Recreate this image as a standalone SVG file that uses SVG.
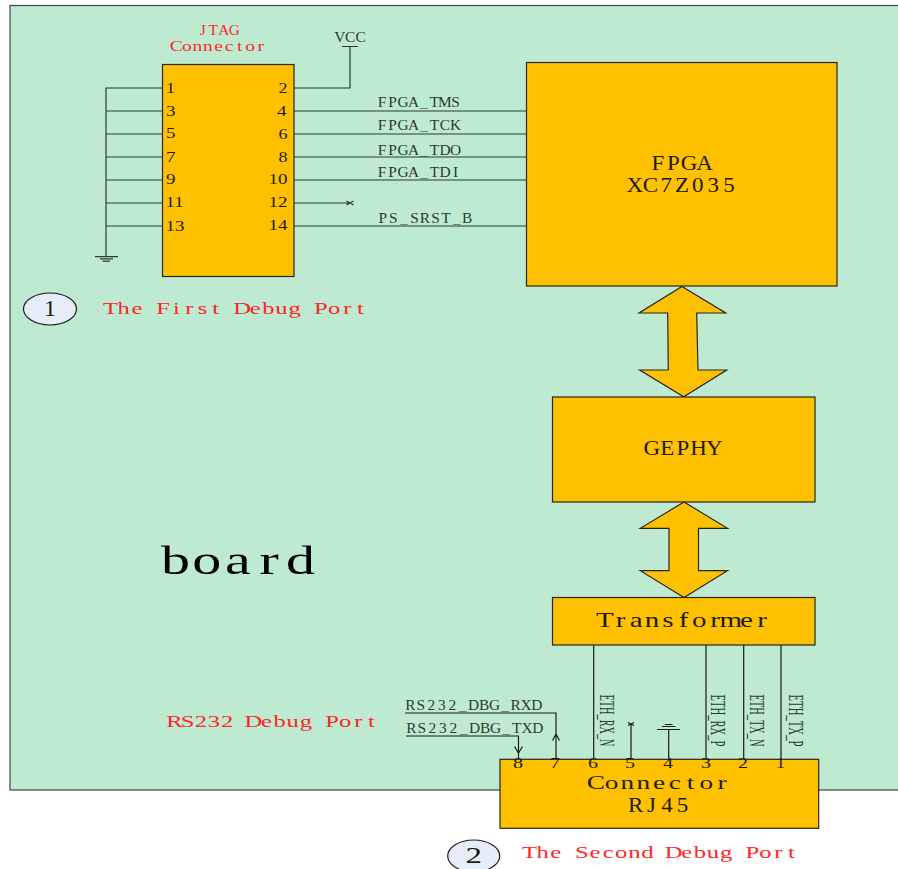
<svg xmlns="http://www.w3.org/2000/svg" width="898" height="869" viewBox="0 0 898 869">
<style>
text{font-family:"Liberation Serif","Times New Roman",serif;fill:#1c1c14}
.r{fill:#ff2626}
.m{text-anchor:middle}
.b{fill:#ffc000;stroke:#26261c;stroke-width:1.2}
.w{fill:none;stroke:#2c3a30;stroke-width:1.2}
.k{fill:none;stroke:#1a1a1a;stroke-width:1.2}
.p{font-size:14px}
.s{font-size:14px;fill:#2a3a30}
.v{font-size:22px;fill:#2a3a30}
.l{font-size:20px}
.t{font-size:17px}
.c{fill:#e6edf8;stroke:#1a1a1a;stroke-width:1.2}
</style>
<g id="board"><rect x="10" y="5.500" width="900" height="784.500" fill="#bfead2" stroke="#444" stroke-width="1.200"/>
<text class="m" style="fill:#000" transform="translate(160 574) scale(1.45 1)" x="10.76 32.28 53.8 75.32 96.84" y="0" font-size="40">board</text></g>

<g id="connectors">
<path class="w" d="M162 88H106V256M106 111H162M106 134H162M106 157H162M106 180H162M106 203H162M106 226H162"/>
<path class="w" d="M95 256.700H118M100 258.900H113M102.500 261.200H110"/>
<path class="w" d="M294 88H350V46.500M342 46.500H358"/>
<path class="w" d="M294 111H526M294 134H526M294 157H526M294 180H526M294 226H526"/>
<path class="w" d="M294 203H350M346.500 201L353.500 205M346.500 205L353.500 201"/>
<path class="k" d="M593.700 645V759M706 645V759M743.700 645V759M781 645V759"/>
<path class="k" d="M631 759V724M628 722.500L634 725.500M628 725.500L634 722.500"/>
<path class="k" d="M668.700 759V729.500M657 729.500H680M662 726.500H675.500M665 724.500H672.500"/>
<path class="k" d="M405 713H556V759M552.500 740.500L556 734L559.500 740.500"/>
<path class="k" d="M406 736H518.500V759M514.500 746.500L518.500 753L522.500 746.500"/>
</g>

<g id="jtag">
<rect class="b" x="162.500" y="64.500" width="131.500" height="212"/>
<text class="r m" transform="translate(197.500 35) scale(1.1 1)" x="4.77 14.32 23.86 33.41" y="0" font-size="14">JTAG</text>
<text class="r m" transform="translate(171 51) scale(1.4 1)" x="3.77 11.31 18.85 26.39 33.93 41.47 49.01 56.55 64.09" y="0" font-size="14">Connector</text>
<text class="p" x="166" y="92.700" textLength="9" lengthAdjust="spacingAndGlyphs">1</text>
<text class="p" x="166" y="115.700" textLength="9.500" lengthAdjust="spacingAndGlyphs">3</text>
<text class="p" x="166" y="138" textLength="9.500" lengthAdjust="spacingAndGlyphs">5</text>
<text class="p" x="166" y="161.500" textLength="9.500" lengthAdjust="spacingAndGlyphs">7</text>
<text class="p" x="166" y="184" textLength="9.500" lengthAdjust="spacingAndGlyphs">9</text>
<text class="p" x="165.500" y="207" textLength="18" lengthAdjust="spacingAndGlyphs">11</text>
<text class="p" x="165.500" y="231" textLength="19" lengthAdjust="spacingAndGlyphs">13</text>
<text class="p" x="278.500" y="93" textLength="9" lengthAdjust="spacingAndGlyphs">2</text>
<text class="p" x="277" y="116" textLength="9.500" lengthAdjust="spacingAndGlyphs">4</text>
<text class="p" x="278.500" y="139" textLength="9" lengthAdjust="spacingAndGlyphs">6</text>
<text class="p" x="278.500" y="162" textLength="9" lengthAdjust="spacingAndGlyphs">8</text>
<text class="p" x="268.500" y="184" textLength="19" lengthAdjust="spacingAndGlyphs">10</text>
<text class="p" x="268.500" y="207" textLength="19" lengthAdjust="spacingAndGlyphs">12</text>
<text class="p" x="268.500" y="229.500" textLength="19" lengthAdjust="spacingAndGlyphs">14</text>
</g>

<g id="signals">
<text class="s m" transform="translate(334.500 42) scale(1.1 1)" x="4.77 14.32 23.86" y="0">VCC</text>
<text class="s m" transform="translate(376.700 107) scale(1.1 1)" x="4.77 14.32 23.86 33.41 42.95 52.5 62.05 71.59" y="0">FPGA_TMS</text>
<text class="s m" transform="translate(376.700 130) scale(1.1 1)" x="4.77 14.32 23.86 33.41 42.95 52.5 62.05 71.59" y="0">FPGA_TCK</text>
<text class="s m" transform="translate(376.700 154.500) scale(1.1 1)" x="4.77 14.32 23.86 33.41 42.95 52.5 62.05 71.59" y="0">FPGA_TDO</text>
<text class="s m" transform="translate(376.700 177) scale(1.1 1)" x="4.77 14.32 23.86 33.41 42.95 52.5 62.05 71.59" y="0">FPGA_TDI</text>
<text class="s m" transform="translate(377.500 223) scale(1.1 1)" x="4.8 14.39 23.98 33.57 43.16 52.75 62.34 71.93 81.52" y="0">PS_SRST_B</text>
<text class="s m" transform="translate(405 710) scale(1.1 1)" x="4.79 14.37 23.95 33.53 43.11 52.69 62.27 71.85 81.43 91.01 100.59 110.17 119.75" y="0">RS232_DBG_RXD</text>
<text class="s m" transform="translate(406 732.700) scale(1.1 1)" x="4.79 14.37 23.95 33.53 43.11 52.69 62.27 71.85 81.43 91.01 100.59 110.17 119.75" y="0">RS232_DBG_TXD</text>
<text class="v" transform="translate(600 694.500) rotate(90)" textLength="52" lengthAdjust="spacingAndGlyphs">ETH_RX_N</text>
<text class="v" transform="translate(710.700 694.500) rotate(90)" textLength="52" lengthAdjust="spacingAndGlyphs">ETH_RX_P</text>
<text class="v" transform="translate(750 694.500) rotate(90)" textLength="52" lengthAdjust="spacingAndGlyphs">ETH_TX_N</text>
<text class="v" transform="translate(789.300 694.500) rotate(90)" textLength="52" lengthAdjust="spacingAndGlyphs">ETH_TX_P</text>
</g>

<g id="fpga">
<rect class="b" x="526.500" y="62.500" width="310.500" height="223.500"/>
<text class="l m" transform="translate(650 170) scale(1.15 1)" x="6.78 20.35 33.92 47.49" y="0">FPGA</text>
<text class="l m" transform="translate(627 192) scale(1.15 1)" x="6.83 20.48 34.13 47.78 61.43 75.08 88.73" y="0">XC7Z035</text>
</g>
<g id="arrow-fpga-gephy"><path class="b" d="M682 286.500L725.700 313H696.700L698 370H726.700L683.700 396.700L639.700 370H668.300L667.700 313H639Z"/></g>
<g id="gephy">
<rect class="b" x="552.500" y="397" width="262.500" height="105"/>
<text class="l m" transform="translate(644 455) scale(1.15 1)" x="6.78 20.35 33.92 47.49 61.06" y="0">GEPHY</text>
</g>
<g id="arrow-gephy-transformer"><path class="b" d="M684 502L727.500 528.300H698.500V570.700H727.500L684 597.500L640.300 570.700H669V528.300H640.300Z"/></g>
<g id="transformer">
<rect class="b" x="552.500" y="597.500" width="262.500" height="47.500"/>
<text class="l m" transform="translate(597 627) scale(1.45 1)" x="5.42 16.27 27.12 37.97 48.82 59.67 70.52 81.37 92.22 103.07 113.92" y="0">Transformer</text>
</g>
<g id="rj45">
<rect class="b" x="500" y="759.300" width="318.700" height="69"/>
<text class="p" x="513" y="768" textLength="10" lengthAdjust="spacingAndGlyphs">8</text>
<text class="p" x="550" y="768" textLength="10" lengthAdjust="spacingAndGlyphs">7</text>
<text class="p" x="588" y="768" textLength="10" lengthAdjust="spacingAndGlyphs">6</text>
<text class="p" x="625" y="768" textLength="10" lengthAdjust="spacingAndGlyphs">5</text>
<text class="p" x="663" y="768" textLength="10" lengthAdjust="spacingAndGlyphs">4</text>
<text class="p" x="701" y="768" textLength="10" lengthAdjust="spacingAndGlyphs">3</text>
<text class="p" x="738" y="768" textLength="10" lengthAdjust="spacingAndGlyphs">2</text>
<text class="p" x="776" y="768" textLength="9" lengthAdjust="spacingAndGlyphs">1</text>
<text class="m" font-size="19.5" transform="translate(588 788.500) scale(1.4 1)" x="5.64 16.91 28.18 39.45 50.72 61.99 73.26 84.53 95.8" y="0">Connector</text>
<text class="l m" transform="translate(628 812) scale(1.15 1)" x="6.78 20.35 33.92 47.49" y="0">RJ45</text>
</g>
<g id="port1">
<ellipse class="c" cx="50" cy="309" rx="26.500" ry="16"/>
<text x="44" y="316" font-size="24" textLength="12" lengthAdjust="spacingAndGlyphs">1</text>
<text class="r t m" transform="translate(104 314) scale(1.45 1)" x="4.53 13.6 22.67 31.74 40.81 49.88 58.95 68.02 77.09 86.16 95.23 104.3 113.37 122.44 131.51 140.58 149.65 158.72 167.79 176.86" y="0">The First Debug Port</text>
</g>
<g id="port2">
<ellipse class="c" cx="473.700" cy="856" rx="26" ry="16"/>
<text x="465.500" y="863" font-size="24" textLength="16.500" lengthAdjust="spacingAndGlyphs">2</text>
<text class="r t m" transform="translate(523 858.300) scale(1.45 1)" x="4.52 13.55 22.59 31.62 40.66 49.69 58.72 67.76 76.79 85.83 94.86 103.89 112.93 121.96 131 140.03 149.06 158.1 167.13 176.17 185.2" y="0">The Second Debug Port</text>
</g>
<g id="rs232"><text class="r t m" transform="translate(168 727) scale(1.45 1)" x="4.53 13.58 22.63 31.68 40.73 49.79 58.84 67.89 76.94 85.99 95.05 104.1 113.15 122.2 131.25 140.3" y="0">RS232 Debug Port</text></g>
</svg>
